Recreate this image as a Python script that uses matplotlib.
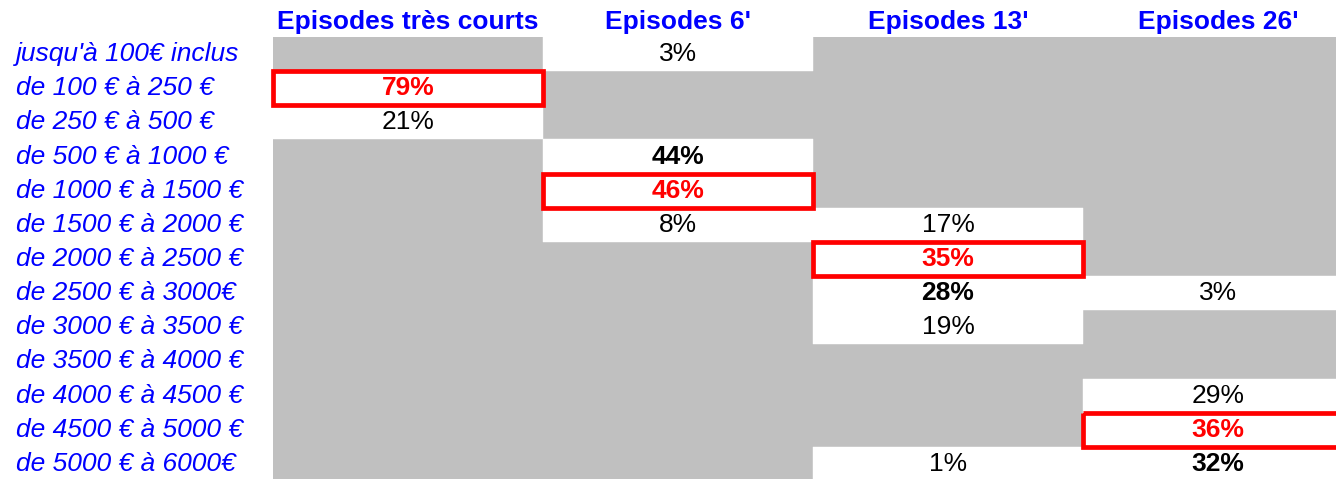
import matplotlib
matplotlib.use("Agg")
import matplotlib.pyplot as plt
from matplotlib.patches import Rectangle
from matplotlib.transforms import blended_transform_factory

plt.rcParams['font.family'] = ['Liberation Sans', 'DejaVu Sans']

row_labels = [
    "jusqu'à 100€ inclus",
    "de 100 € à 250 €",
    "de 250 € à 500 €",
    "de 500 € à 1000 €",
    "de 1000 € à 1500 €",
    "de 1500 € à 2000 €",
    "de 2000 € à 2500 €",
    "de 2500 € à 3000€",
    "de 3000 € à 3500 €",
    "de 3500 € à 4000 €",
    "de 4000 € à 4500 €",
    "de 4500 € à 5000 €",
    "de 5000 € à 6000€",
]
columns = ["Episodes très courts", "Episodes 6'", "Episodes 13'", "Episodes 26'"]

# percentage per row (None = no data, grey cell)
tres_courts = [None, 79, 21, None, None, None, None, None, None, None, None, None, None]
ep6 = [3, None, None, 44, 46, 8, None, None, None, None, None, None, None]
ep13 = [None, None, None, None, None, 17, 35, 28, 19, None, None, None, 1]
ep26 = [None, None, None, None, None, None, None, 3, None, None, 29, 36, 32]
values = [tres_courts, ep6, ep13, ep26]

# highlighted (max, red box) row index per column, and bold (second) row index
highlight_rows = [1, 4, 6, 11]
bold_rows = [[], [3], [7], [12]]

W, H = 1336, 479
fig = plt.figure(figsize=(W / 100, H / 100), dpi=100)
left_px, top_px = 273, 37
col_w, row_h = 270.0, 34.15
ax = fig.add_axes([left_px / W, 0, (W - left_px) / W, (H - top_px) / H])
ax.set_xlim(0, (W - left_px) / col_w)
ax.set_ylim((H - top_px) / row_h, 0)
ax.axis('off')

GREY = '#C0C0C0'
RED = '#FF0000'
BLUE = '#0000FF'
FS = 19

n_rows = len(row_labels)
n_cols = len(columns)
ax.add_patch(Rectangle((0, 0), n_cols, n_rows, facecolor=GREY, edgecolor='none', zorder=0))

for c, col_vals in enumerate(values):
    for r, v in enumerate(col_vals):
        if v is None:
            continue
        ax.add_patch(Rectangle((c, r), 1, 1, facecolor='white', edgecolor='white',
                               linewidth=0.3, zorder=1))
        if r == highlight_rows[c]:
            color, weight = RED, 'bold'
        elif r in bold_rows[c]:
            color, weight = 'black', 'bold'
        else:
            color, weight = 'black', 'normal'
        ax.text(c + 0.5, r + 0.5, f"{v}%", ha='center', va='center',
                fontsize=FS, color=color, fontweight=weight, zorder=3)
    hr = highlight_rows[c]
    ax.add_patch(Rectangle((c, hr), 1, 1, facecolor='none', edgecolor=RED,
                           linewidth=3.4, zorder=4, clip_on=False))

for c, name in enumerate(columns):
    ax.text(c + 0.5, -0.45, name, ha='center', va='center', fontsize=FS,
            fontweight='bold', color=BLUE, clip_on=False)

trans = blended_transform_factory(fig.transFigure, ax.transData)
for r, lab in enumerate(row_labels):
    ax.text(16 / W, r + 0.5, lab, transform=trans, ha='left', va='center',
            fontsize=FS, fontstyle='italic', color=BLUE, clip_on=False)

fig.savefig('out.png', dpi=100)
